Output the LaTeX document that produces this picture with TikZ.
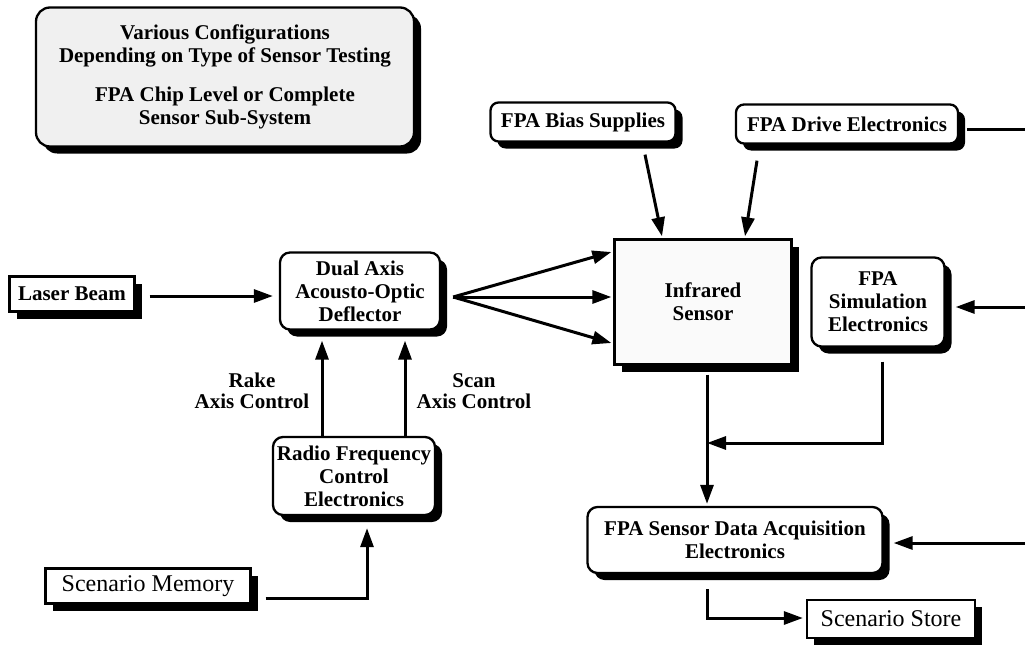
\documentclass[tikz,border=0pt]{standalone}
\usepackage{fontspec}
\setmainfont{Liberation Serif}
\usetikzlibrary{arrows.meta,shadows,calc}
\begin{document}
\begin{tikzpicture}[x=1pt,y=-1pt,
  box/.style={draw, line width=2.3pt, fill=white, align=center, inner sep=0pt,
    font=\fontsize{21}{23}\selectfont\bfseries,
    drop shadow={shadow xshift=7pt, shadow yshift=-7pt, fill=black, opacity=1}},
  rbox/.style={box, rounded corners=10pt},
  plainbox/.style={box, font=\fontsize{24}{26}\selectfont},
  arr/.style={line width=3pt, -{Triangle[length=19pt,width=13pt]}},
  ln/.style={line width=3pt},
  lbl/.style={align=center, inner sep=0pt, font=\fontsize{21}{21}\selectfont\bfseries}
]
\useasboundingbox (0,0) rectangle (1025,650);

% nodes
\node[rbox, rounded corners=14pt, fill=black!6, minimum width=378pt, minimum height=139pt] (title) at (225,77)
  {Various Configurations\\Depending on Type of Sensor Testing\\[16pt]FPA Chip Level or Complete\\Sensor Sub-System};
\node[rbox, rounded corners=8pt, minimum width=185pt, minimum height=39pt] (bias) at (583,122) {FPA Bias Supplies};
\node[rbox, rounded corners=8pt, minimum width=222pt, minimum height=39pt] (drive) at (847,124) {FPA Drive Electronics};
\node[box, minimum width=125pt, minimum height=35pt] (laser) at (72,294) {Laser Beam};
\node[rbox, minimum width=160pt, minimum height=77pt] (dual) at (360,291) {Dual Axis\\Acousto-Optic\\Deflector};
\node[box, fill=black!2, minimum width=177pt, minimum height=125pt] (sensor) at (703,302) {Infrared\\Sensor};
\node[rbox, minimum width=133pt, minimum height=89pt] (sim) at (878,302) {FPA\\Simulation\\Electronics};
\node[rbox, minimum width=162pt, minimum height=78pt] (rf) at (354,476) {Radio Frequency\\Control\\Electronics};
\node[plainbox, minimum width=205pt, minimum height=35pt] (mem) at (148,586) {Scenario Memory};
\node[rbox, minimum width=295pt, minimum height=66pt] (daq) at (735,540) {FPA Sensor Data Acquisition\\Electronics};
\node[plainbox, minimum width=168pt, minimum height=38pt] (store) at (891,619) {Scenario Store};

\node[lbl] (rake) at (252,391) {Rake\\Axis Control};
\node[lbl] (scan) at (474,391) {Scan\\Axis Control};

% free ends
\coordinate (fan) at ($(dual.east)+(12,6)$);
\coordinate (rin1) at (1025,130);
\coordinate (rin2) at (1025,307);
\coordinate (rin3) at (1025,543);
\coordinate (jn) at (707,443);

% connectors
\draw[arr] ($(laser.east)+(14,2)$) -- ($(dual.west)+(-6,5)$);
\draw[arr] (fan) -- ($(sensor.west)+(-2,-50)$);
\draw[arr] (fan) -- ($(sensor.west)+(-2,-5)$);
\draw[arr] (fan) -- ($(sensor.west)+(-2,41)$);
\draw[arr] ($(bias.south)+(62,12)$) -- ($(sensor.north)+(-41,-2)$);
\draw[arr] ($(drive.south)+(-90,16)$) -- ($(sensor.north)+(42,-2)$);
\draw[ln] ($(drive.east)+(8,6)$) -- (rin1);
\draw[arr] (rin2) -- ($(sim.east)+(10,5)$);
\draw[arr] ($(rf.north)+(-32,0)$) -- ($(dual.south)+(-38,10)$);
\draw[arr] ($(rf.north)+(51,0)$) -- ($(dual.south)+(45,10)$);
\draw[arr] ($(mem.east)+(14,12)$) -| ($(rf.south)+(13,12)$);
\draw[arr] ($(sensor.south)+(4,9)$) -- ($(daq.north)+(-28,-2)$);
\draw[arr] ($(sim.south)+(4,14)$) |- (jn);
\draw[arr] (rin3) -- ($(daq.east)+(10,3)$);
\draw[arr] ($(daq.south)+(-28,15)$) |- ($(store.west)+(-3,-1)$);
\end{tikzpicture}
\end{document}
